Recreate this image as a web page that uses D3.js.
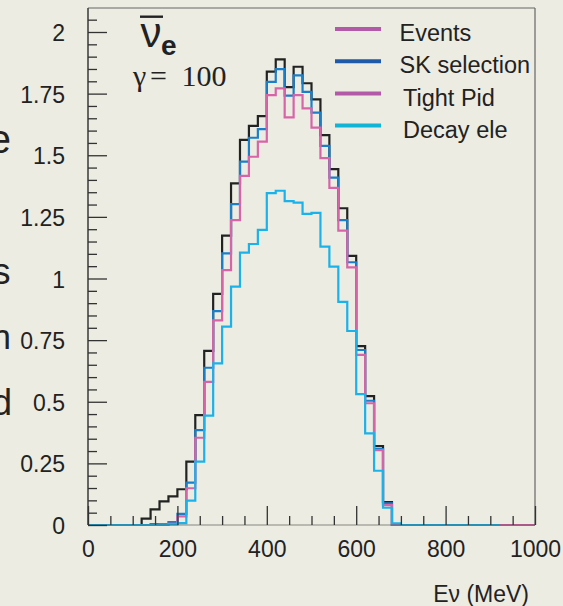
<!DOCTYPE html>
<html><head><meta charset="utf-8">
<script src="https://cdn.jsdelivr.net/npm/d3@7"></script>
<style>
html,body{margin:0;padding:0;background:#ecece2;}
svg{display:block;}
text{font-family:"Liberation Sans",Arial,sans-serif;fill:#222;}
</style></head>
<body>
<svg id="chart" width="563" height="606"></svg>
<script>
// ---- data ----
const binWidth = 20; // MeV
const binStarts = d3.range(0, 1000, binWidth);
const events = [0,0,0,0,0,0,0.026,0.063,0.096,0.116,0.145,0.257,0.446,0.706,0.938,1.174,1.386,1.562,1.619,1.659,1.839,1.889,1.776,1.859,1.792,1.727,1.582,1.444,1.285,1.092,0.726,0.523,0.320,0.093,0,0,0,0,0,0,0,0,0,0,0,0,0,0,0,0];
const skSelection = [0,0,0,0,0,0,0,0.004,0.004,0.012,0.045,0.172,0.385,0.638,0.868,1.102,1.302,1.474,1.571,1.606,1.798,1.849,1.742,1.824,1.757,1.673,1.538,1.409,1.237,1.066,0.710,0.504,0.308,0.088,0,0,0,0,0,0,0,0,0,0,0,0,0,0,0,0];
const tightPid = [0,0,0,0,0,0,0,0,0.002,0.005,0.035,0.149,0.354,0.581,0.830,1.034,1.237,1.416,1.494,1.555,1.744,1.771,1.654,1.744,1.690,1.612,1.488,1.368,1.194,1.045,0.690,0.494,0.304,0.081,0,0,0,0,0,0,0,0,0,0,0,0,0,0,0,0];
const decayEle = [0,0,0,0,0,0,0,0,0,0.002,0.008,0.099,0.257,0.444,0.656,0.805,0.967,1.105,1.140,1.197,1.346,1.356,1.314,1.308,1.262,1.266,1.129,1.048,0.905,0.787,0.531,0.372,0.220,0.070,0.007,0,0,0,0,0,0,0,0,0,0,0];
const seriesNames = ["Events", "SK selection", "Tight Pid", "Decay ele"];
const seriesValues = [events, skSelection, tightPid, decayEle];
const seriesColors = ["#222222", "#1a7ec8", "#d764a8", "#1ab2ea"];
const legendColors = ["#b25aa8", "#1f5aa8", "#b25aa8", "#12b4d6"];
const yTicks = [0, 0.25, 0.5, 0.75, 1, 1.25, 1.5, 1.75, 2];
const yTickLabels = ["0", "0.25", "0.5", "0.75", "1", "1.25", "1.5", "1.75", "2"];
const xTicks = [0, 200, 400, 600, 800, 1000];
const xTickLabels = ["0", "200", "400", "600", "800", "1000"];
const xTitle = "Eν (MeV)";
const leftFragments = ["e", "s", "n", "d"];

// ---- layout ----
const svg = d3.select("#chart");
svg.append("rect").attr("width", 563).attr("height", 606).attr("fill", "#ecece2");

const x = d3.scaleLinear().domain([0, 1000]).range([88, 535]);
const y = d3.scaleLinear().domain([0, 2]).range([525, 32]);
const yTop = y.invert(8);

// clipped text fragments at far left
const fragY = [153, 283.5, 349, 415];
const fragX = [11, 10.5, 11, 12];
const fragSize = [40, 36, 35, 36];
leftFragments.forEach((t, i) => {
  svg.append("text").attr("x", fragX[i]).attr("y", fragY[i])
    .attr("text-anchor", "end").style("font-size", fragSize[i] + "px").text(t);
});

// histograms
const line = d3.line().x(d => x(d[0])).y(d => y(d[1])).curve(d3.curveStepAfter);
seriesValues.forEach((vals, i) => {
  const pts = binStarts.map((b, j) => [b, vals[j]]);
  pts.push([1000, vals[vals.length - 1]]);
  svg.append("path").attr("d", line(pts)).attr("fill", "none")
    .attr("stroke", seriesColors[i]).attr("stroke-width", 2.2)
    .attr("stroke-linejoin", "miter");
});

// frame
const frame = svg.append("g").attr("stroke", "#444").attr("fill", "none");
frame.append("line").attr("x1", x(0)).attr("x2", x(1000)).attr("y1", y(yTop)).attr("y2", y(yTop)).attr("stroke-width", 1.2).attr("stroke", "#666");
frame.append("line").attr("x1", x(1000)).attr("x2", x(1000)).attr("y1", y(yTop)).attr("y2", y(0)).attr("stroke-width", 1.2).attr("stroke", "#666");
frame.append("line").attr("x1", x(0)).attr("x2", x(0)).attr("y1", y(yTop)).attr("y2", y(0)).attr("stroke-width", 1.6);
frame.append("line").attr("x1", x(0)).attr("x2", x(1000)).attr("y1", y(0)).attr("y2", y(0)).attr("stroke-width", 1.2).attr("stroke-opacity", 0.6);

// Y axis
const yMinor = d3.range(0, 2.1, 0.05).map(v => Math.round(v * 100) / 100).filter(v => !yTicks.includes(v));
const yMinorAxis = d3.axisLeft(y).tickValues(yMinor).tickSizeInner(-9).tickSizeOuter(0).tickFormat("");
const yAxis = d3.axisLeft(y).tickValues(yTicks).tickSizeInner(-19).tickSizeOuter(0).tickPadding(23)
  .tickFormat((d, i) => yTickLabels[i]);
const gyMin = svg.append("g").attr("transform", `translate(${x(0)},0)`).call(yMinorAxis);
const gy = svg.append("g").attr("transform", `translate(${x(0)},0)`).call(yAxis);
[gyMin, gy].forEach(g => {
  g.select(".domain").remove();
  g.selectAll(".tick line").attr("stroke", "#333").attr("stroke-width", 1.3);
});
gy.selectAll(".tick text").style("font-size", "23px").attr("dy", "0.37em")
  .style("font-family", "'Liberation Sans',Arial,sans-serif").attr("fill", "#222");

// X axis
const xMinor = d3.range(50, 1000, 50).filter(v => !xTicks.includes(v));
const xMinorAxis = d3.axisBottom(x).tickValues(xMinor).tickSizeInner(-9).tickSizeOuter(0).tickFormat("");
const xAxis = d3.axisBottom(x).tickValues(xTicks).tickSizeInner(-19).tickSizeOuter(0).tickPadding(15.5)
  .tickFormat((d, i) => xTickLabels[i]);
const gxMin = svg.append("g").attr("transform", `translate(0,${y(0)})`).call(xMinorAxis);
const gx = svg.append("g").attr("transform", `translate(0,${y(0)})`).call(xAxis);
[gxMin, gx].forEach(g => {
  g.select(".domain").remove();
  g.selectAll(".tick line").attr("stroke", "#333").attr("stroke-width", 1.3);
});
gx.selectAll(".tick text").style("font-size", "23px")
  .style("font-family", "'Liberation Sans',Arial,sans-serif").attr("fill", "#222");

// X title
svg.append("text").attr("x", 529).attr("y", 601.5).attr("text-anchor", "end")
  .style("font-size", "23px").text(xTitle);

// anti-nu_e label
svg.append("line").attr("x1", 140).attr("x2", 163).attr("y1", 16.7).attr("y2", 16.7)
  .attr("stroke", "#222").attr("stroke-width", 2.4);
svg.append("text").attr("x", 140.5).attr("y", 46.7).style("font-size", "42px").text("ν");
svg.append("text").attr("x", 161).attr("y", 55).style("font-size", "28px").style("font-weight", "bold").text("e");

// gamma = 100
const g100 = svg.append("text").attr("y", 85.7)
  .style("font-family", "'Liberation Serif','Times New Roman',serif").style("font-size", "30px");
g100.append("tspan").attr("x", 133).text("γ");
g100.append("tspan").attr("x", 150).text("=");
g100.append("tspan").attr("x", 181.5).text("100");

// legend
const legend = svg.append("g");
seriesNames.forEach((name, i) => {
  const ly = 29 + i * 32.2;
  legend.append("line").attr("x1", 335).attr("x2", 381).attr("y1", ly).attr("y2", ly)
    .attr("stroke", legendColors[i]).attr("stroke-width", 4);
  legend.append("text").attr("x", i < 2 ? 399.5 : 403).attr("y", ly + 4.5 + (i > 1 ? 1 : 0))
    .attr("dy", "0.3em").style("font-size", "23.5px").text(name);
});
</script>
</body></html>
